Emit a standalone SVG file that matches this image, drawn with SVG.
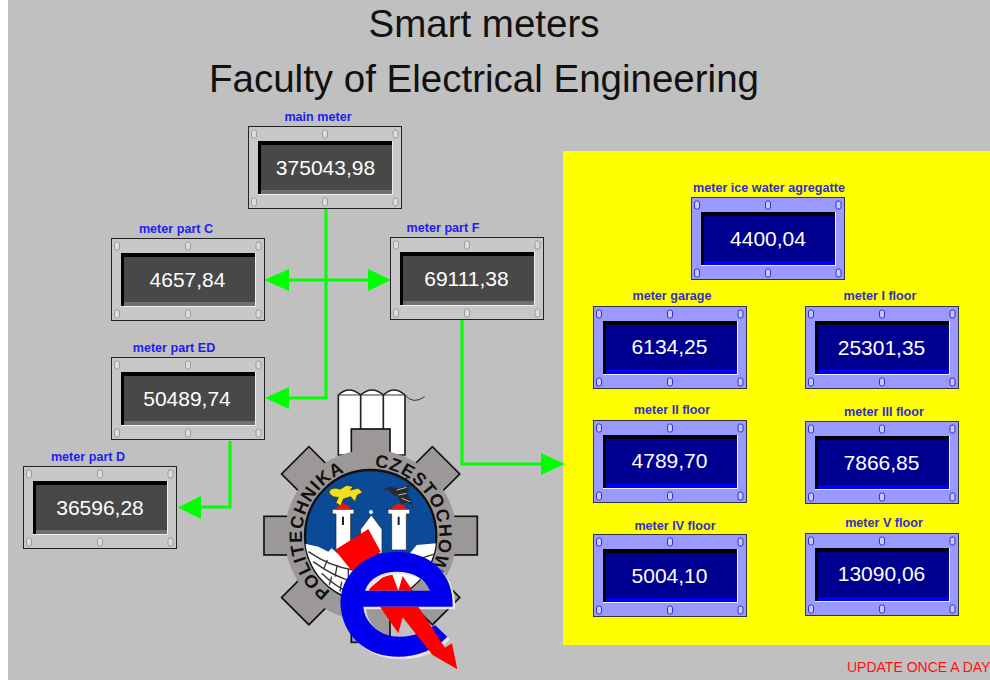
<svg xmlns="http://www.w3.org/2000/svg" xmlns:xlink="http://www.w3.org/1999/xlink" width="990" height="680" viewBox="0 0 990 680">
<style>
text{font-family:"Liberation Sans",Arial,sans-serif}
.title{font-size:38.5px;fill:#111;text-anchor:middle}
.lab{font-size:12.600px;font-weight:bold;fill:#2020f0;text-anchor:middle}
.labb{fill:#3030c8}
.val{font-size:21px;fill:#fff;text-anchor:middle}
.link{fill:none;stroke:#00ff00;stroke-width:3}
.head{fill:#00ff00}
.ol{stroke:#111;stroke-width:5}
.gb{fill:#dcdcdc;stroke:#9a9a9a;stroke-width:1}
.bb{fill:#c8c8ff;stroke:#3030d8;stroke-width:1}
.ring{font-size:54px;font-weight:bold;fill:#111;letter-spacing:3px}
</style>
<defs>
<g id="boltsG">
<rect class="gb" x="3.500" y="4" width="5" height="8" rx="2"/><rect class="gb" x="74.500" y="4" width="5" height="8" rx="2"/><rect class="gb" x="145" y="4" width="5" height="8" rx="2"/>
<rect class="gb" x="3.500" y="72" width="5" height="8" rx="2"/><rect class="gb" x="74.500" y="72" width="5" height="8" rx="2"/><rect class="gb" x="145" y="72" width="5" height="8" rx="2"/>
</g>
<g id="boltsB">
<rect class="bb" x="3.500" y="4" width="5" height="8" rx="2"/><rect class="bb" x="74.500" y="4" width="5" height="8" rx="2"/><rect class="bb" x="145" y="4" width="5" height="8" rx="2"/>
<rect class="bb" x="3.500" y="72" width="5" height="8" rx="2"/><rect class="bb" x="74.500" y="72" width="5" height="8" rx="2"/><rect class="bb" x="145" y="72" width="5" height="8" rx="2"/>
</g>
<g id="meterG">
<rect x=".5" y=".5" width="153" height="82" fill="#c8c8c8" stroke="#222"/>
<rect x="10" y="15" width="135" height="54" fill="#f0f0f0"/>
<rect x="10" y="15" width="134" height="53" fill="#000"/>
<rect x="13" y="19" width="131" height="45" fill="#484848"/>
<rect x="13" y="64" width="131" height="4" fill="#707070"/>
<use xlink:href="#boltsG" href="#boltsG"/>
</g>
<g id="meterB">
<rect x=".5" y=".5" width="153" height="82" fill="#9999ff" stroke="#333"/>
<rect x="10" y="15" width="135" height="54" fill="#f0f0ff"/>
<rect x="10" y="15" width="134" height="53" fill="#000"/>
<rect x="13" y="19" width="131" height="45" fill="#000090"/>
<rect x="13" y="64" width="131" height="4" fill="#0000ff"/>
<use xlink:href="#boltsB" href="#boltsB"/>
</g>
<path id="ringText" d="M362 673A206 206 0 1 1 362.100 673"/>
<clipPath id="disc"><circle cx="362" cy="467" r="197"/></clipPath>
<path id="eShape" fill-rule="evenodd" d="M272 680C265 590 340 515 440 515C540 515 612 580 608 680H340C345 730 390 770 450 770C490 770 525 755 555 735L592 770C555 810 500 830 445 830C350 830 280 770 272 680ZM345 632H540C525 595 490 575 440 575C395 575 358 595 345 632Z"/>
</defs>

<rect width="990" height="680" fill="#c0c0c0"/>
<rect width="8" height="680" fill="#fff"/>
<rect x="563" y="151" width="427" height="494" fill="#ffff00"/>

<g id="titles">
<text class="title" x="484" y="37">Smart meters</text>
<text class="title" x="484" y="92">Faculty of Electrical Engineering</text>
</g>

<g id="logo" transform="translate(250 380) scale(.3333)">
<path d="M265 225V45Q297 15 332 45Q366 15 400 45Q432 15 465 45V225Z" fill="#fff" stroke="#222" stroke-width="5"/>
<path d="M332 45V150M400 45V150" stroke="#222" stroke-width="5" fill="none"/>
<path d="M267 45H465M465 45Q490 75 524 50" stroke="#333" stroke-width="3" fill="none"/>
<g fill="#9c9898" class="ol">
<rect x="304" y="147" width="116" height="640"/>
<rect x="304" y="147" width="116" height="640" transform="rotate(45 362 467)"/>
<rect x="304" y="147" width="116" height="640" transform="rotate(90 362 467)"/>
<rect x="304" y="147" width="116" height="640" transform="rotate(135 362 467)"/>
</g>
<circle cx="362" cy="467" r="258" fill="#9c9898"/>
<circle cx="362" cy="467" r="197" fill="#0a4a96" stroke="#111" stroke-width="7"/>
<text class="ring"><textPath xlink:href="#ringText" href="#ringText" startOffset="128">POLITECHNIKA</textPath></text>
<text class="ring"><textPath xlink:href="#ringText" href="#ringText" startOffset="658">CZĘSTOCHOWA</textPath></text>
<g clip-path="url(#disc)">
<path d="M160 490L205 500L235 515L245 505L262 520L300 530L420 530L480 520L500 495L560 490V680H160Z" fill="#fff"/>
<path d="M175 515Q240 560 310 570M190 545Q250 590 310 605M215 580Q250 615 300 640M480 545L560 520M480 575L560 550M232 540L222 565M262 555L255 590M295 565V600M245 590L238 615M275 605L270 635" stroke="#333" stroke-width="4" fill="none"/>
</g>
<g fill="#fff" stroke="#222" stroke-width="2">
<path d="M247 388H312V402H302V510H258V402H247Z"/>
<path d="M414 388H479V402H469V510H425V402H414Z"/>
<path d="M332 448L364 405L396 448V520H332Z"/>
</g>
<circle cx="363" cy="396" r="6" fill="#fff"/>
<path d="M279 410V435M446 410V435" stroke="#222" stroke-width="6"/>
<path d="M258 388L262 378L280 370L298 378L302 388ZM425 388L429 378L447 370L465 378L469 388Z" fill="#e01818"/>
<path d="M237 335C245 320 262 325 270 328L290 316L310 320L300 330L325 325L338 337L322 345L315 365L302 350L280 357L272 378L258 368L265 352C248 352 240 345 237 335Z" fill="#f0e020" stroke="#3a3000" stroke-width="2"/>
<path d="M394 333L420 320L445 325L480 315L472 338L488 375L470 368L452 372L445 350L430 345L415 330Z" fill="#2a2a2a"/>
<path d="M440 330L470 322M445 345L470 340M455 355L480 365" stroke="#bbb" stroke-width="3" fill="none"/>
<path d="M255 510L355 447L392 515L305 572Z" fill="#ff0000"/>
<path d="M350 632L400 590L425 578L445 632L458 588L488 632Z" fill="#ff0000"/>
<use xlink:href="#eShape" href="#eShape" x="8" y="8" fill="#e6e6e6"/>
<use xlink:href="#eShape" href="#eShape" fill="#0000ee"/>
<path d="M390 680L445 760L458 712L548 825L622 868L606 790L585 803L505 680Z" fill="#ff0000"/>
</g>

<g id="connectors">
<path class="link" d="M326 209V398H285"/>
<path class="head" d="M265 398L289 387V409Z"/>
<path class="link" d="M285 280H372"/>
<path class="head" d="M264 280L289 269V291Z"/>
<path class="head" d="M391 280L368 269V291Z"/>
<path class="link" d="M462 320V464H545"/>
<path class="head" d="M565 464L541 453V475Z"/>
<path class="link" d="M230 441V507H198"/>
<path class="head" d="M178 507.500L201 496V519Z"/>
</g>

<g id="main-meter"><text class="lab" x="318" y="121">main meter</text><use xlink:href="#meterG" href="#meterG" x="248" y="126"/><text class="val" x="325.500" y="175">375043,98</text></g>
<g id="meter-part-c"><text class="lab" x="176" y="233">meter part C</text><use xlink:href="#meterG" href="#meterG" x="111" y="238"/><text class="val" x="187.500" y="287">4657,84</text></g>
<g id="meter-part-f"><text class="lab" x="443" y="232">meter part F</text><use xlink:href="#meterG" href="#meterG" x="390" y="237"/><text class="val" x="466.500" y="286">69111,38</text></g>
<g id="meter-part-ed"><text class="lab" x="174" y="352">meter part ED</text><use xlink:href="#meterG" href="#meterG" x="111" y="357"/><text class="val" x="187" y="406">50489,74</text></g>
<g id="meter-part-d"><text class="lab" x="88" y="461">meter part D</text><use xlink:href="#meterG" href="#meterG" x="23" y="466"/><text class="val" x="100" y="515">36596,28</text></g>

<g id="meter-ice"><text class="lab labb" x="769" y="192">meter ice water agregatte</text><use xlink:href="#meterB" href="#meterB" x="691" y="197"/><text class="val" x="768" y="246">4400,04</text></g>
<g id="meter-garage"><text class="lab labb" x="672" y="300">meter garage</text><use xlink:href="#meterB" href="#meterB" x="593" y="306"/><text class="val" x="669.500" y="354">6134,25</text></g>
<g id="meter-i"><text class="lab labb" x="880" y="300">meter I floor</text><use xlink:href="#meterB" href="#meterB" x="805" y="306"/><text class="val" x="881.500" y="355">25301,35</text></g>
<g id="meter-ii"><text class="lab labb" x="672" y="414">meter II floor</text><use xlink:href="#meterB" href="#meterB" x="593" y="420"/><text class="val" x="669.500" y="468">4789,70</text></g>
<g id="meter-iii"><text class="lab labb" x="884" y="416">meter III floor</text><use xlink:href="#meterB" href="#meterB" x="805" y="421"/><text class="val" x="881.500" y="470">7866,85</text></g>
<g id="meter-iv"><text class="lab labb" x="675" y="530">meter IV floor</text><use xlink:href="#meterB" href="#meterB" x="593" y="534"/><text class="val" x="669.500" y="583">5004,10</text></g>
<g id="meter-v"><text class="lab labb" x="884" y="527">meter V floor</text><use xlink:href="#meterB" href="#meterB" x="805" y="533"/><text class="val" x="881.500" y="581">13090,06</text></g>

<text id="update-note" x="847" y="672" font-size="14" fill="#ff1010">UPDATE ONCE A DAY</text>
</svg>
